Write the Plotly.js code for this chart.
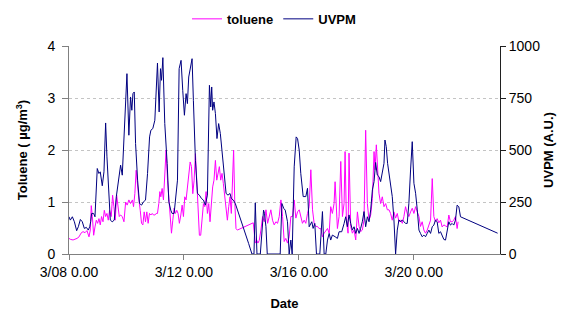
<!DOCTYPE html>
<html>
<head>
<meta charset="utf-8">
<script src="https://cdn.plot.ly/plotly-3.0.1.min.js"></script>
<style>html,body{margin:0;padding:0;background:#fff;}#chart{width:565px;height:315px;}</style>
</head>
<body>
<div id="chart"></div>
<script>
// Hours since 3/08 0:00 and values
const startDate = "2005-03-08T00:00:00Z";
const endDate = "2005-03-23T00:00:00Z";
const xTickLabels = ["3/08 0.00", "3/12 0.00", "3/16 0.00", "3/20 0.00"];

const tolueneHours = [0,1.4,3.4,5.0,6.7,8.4,10.0,11.7,13.4,15.0,16.7,17.8,18.6,19.5,20.6,21.7,22.8,23.9,25.0,26.1,27.2,28.4,29.5,30.6,31.7,32.8,33.9,35.3,36.4,37.5,38.6,39.8,40.9,42.0,43.1,44.5,45.9,47.3,48.6,50.0,51.4,53.0,53.9,55.0,56.1,57.3,58.4,59.5,60.6,61.7,62.8,63.9,65.0,66.1,67.2,68.4,69.5,70.6,71.7,72.8,73.9,75.0,75.9,76.7,77.8,78.9,80.0,81.1,82.3,83.4,84.5,85.6,86.7,87.8,88.9,90.0,91.1,92.2,93.4,94.5,95.6,96.7,97.8,98.9,100.0,101.2,102.3,103.4,104.5,105.6,106.7,107.8,108.9,110.0,111.1,112.3,113.4,114.5,115.6,116.7,117.8,118.9,120.0,121.1,122.3,123.4,124.5,125.6,126.7,127.8,128.9,130.0,131.2,132.3,133.4,134.5,135.6,136.7,137.5,138.4,139.5,140.6,153.9,155.6,156.7,157.8,158.9,160.3,161.7,163.1,164.5,165.9,167.3,168.6,170.0,171.4,172.8,174.2,175.6,177.0,178.4,179.75,181.1,182.5,183.9,185.3,186.7,188.1,189.5,190.9,192.3,193.6,195.0,196.4,197.8,199.2,200.6,202.0,203.4,204.75,206.1,207.5,208.9,210.3,211.7,213.1,214.5,215.9,217.3,218.6,220.0,221.4,222.25,223.4,224.2,225.6,227.0,228.4,229.75,230.6,231.7,233.1,233.9,235.3,236.7,238.1,239.5,240.9,242.3,243.6,245.0,246.4,247.8,249.2,250.6,252.0,253.4,254.8,255.6,256.7,257.8,258.9,260.3,261.7,263.1,264.5,265.9,267.3,268.6,270.0,271.4,272.8,274.2,275.6,277.0,278.4,279.75,281.1,282.5,283.9,285.3,286.7,288.1,289.5,290.9,292.3,293.6,295.0,296.4,297.8,299.2,300.6,302.0,303.4,304.75,306.1,307.5,308.9,310.3,311.7,313.1,314.5,315.9,317.25,318.6,320.0,321.4,322.8,324.2,325.0];
const tolueneValues = [0.30,0.28,0.27,0.28,0.30,0.33,0.40,0.43,0.41,0.45,0.33,0.46,0.93,0.72,0.36,0.52,0.65,0.59,0.68,0.56,0.72,0.62,0.84,0.72,0.78,0.65,0.84,0.72,1.13,0.91,0.65,1.13,0.91,0.72,0.75,0.72,0.62,1.00,0.94,1.04,0.97,1.04,0.91,1.16,1.61,1.23,1.04,0.84,0.59,0.56,0.81,0.62,0.81,0.59,0.78,0.75,0.78,0.75,0.75,0.78,0.78,0.97,1.20,1.10,1.26,1.04,1.55,2.00,1.42,1.10,0.65,0.40,0.65,0.88,0.78,0.84,0.78,0.59,0.75,0.94,0.72,1.10,1.04,1.29,1.48,1.77,1.68,1.16,1.42,1.93,1.42,0.78,0.36,0.36,0.59,0.97,0.91,1.20,0.78,0.97,0.62,0.97,1.29,1.42,1.80,1.42,1.55,1.68,1.42,1.55,1.36,1.10,0.81,0.65,0.91,1.10,0.78,1.36,2.00,1.04,0.49,0.46,0.60,0.21,0.27,0.21,0.26,0.46,0.72,0.62,0.85,0.59,0.72,0.85,0.65,0.56,0.62,0.59,0.72,1.04,0.72,0.24,0.30,0.21,0.33,0.72,0.72,1.04,0.69,0.81,0.85,0.72,0.59,0.65,0.59,0.78,0.91,1.62,0.85,0.59,0.53,0.53,0.49,0.49,0.33,0.40,0.46,0.49,0.40,0.91,0.78,0.97,1.39,0.85,0.49,0.72,1.78,0.72,0.97,1.97,0.65,0.40,1.94,0.53,0.40,0.46,0.27,0.81,0.53,0.43,0.46,0.65,2.38,0.97,0.65,0.75,1.07,1.97,1.62,2.10,1.49,1.17,0.97,1.10,0.91,0.97,0.85,0.85,0.78,0.65,0.81,0.69,0.78,0.62,0.65,0.59,0.72,0.91,0.78,0.72,0.81,0.88,0.78,0.91,0.81,0.72,0.53,0.62,0.46,0.40,0.46,0.56,0.65,1.45,0.72,0.62,0.68,0.60,0.65,0.52,0.56,0.54,0.52,0.75,0.62,0.62,0.65,0.72,0.49,0.62];

const uvpmHours = [0,1.1,2.8,4.5,6.4,7.8,9.5,11.1,12.8,14.5,16.1,17.3,18.1,18.9,20.6,21.7,23.6,25.0,26.1,27.8,29.2,30.6,31.7,33.4,34.5,36.1,37.8,39.5,41.1,43.1,44.5,45.9,48.4,50.0,51.4,52.5,53.4,54.5,55.6,57.3,58.9,60.6,62.2,63.9,65.6,67.3,68.4,70.0,71.7,73.9,75.3,76.4,77.3,78.4,80.0,82.0,83.4,85.0,86.1,87.8,88.9,90.6,92.0,93.6,95.0,96.4,97.8,98.9,100.0,101.4,102.8,103.9,105.6,107.3,108.9,110.6,112.3,113.9,115.6,117.3,118.4,119.2,120.0,121.1,122.3,123.6,125.0,126.4,127.8,129.5,131.2,132.8,134.5,135.6,137.3,138.9,141.7,144.5,147.3,150.0,152.8,154.5,155.6,157.0,159.8,161.1,162.5,163.3,164.5,165.6,176.4,177.8,179.4,180.6,182.5,183.9,185.3,186.4,188.1,189.75,190.9,192.3,193.6,195.6,197.8,199.2,200.6,202.8,203.9,205.3,206.7,209.5,210.6,211.7,213.1,214.5,215.9,217.3,218.6,220.0,222.3,224.2,225.6,227.8,229.8,231.1,232.5,233.9,235.3,236.7,238.1,239.5,240.9,242.3,243.6,245.0,246.4,247.8,249.2,250.6,252.0,253.4,254.8,256.1,257.5,258.9,260.3,261.7,263.1,263.9,265.0,266.1,267.3,268.6,270.0,271.4,272.8,274.2,275.6,277.0,278.4,279.8,281.1,282.5,283.9,285.3,286.7,288.1,289.5,290.9,292.3,293.6,295.0,296.4,297.8,299.2,300.6,302.0,303.4,304.75,306.1,307.5,308.9,310.3,311.7,313.1,314.5,315.9,317.25,318.6,320.0,321.4,322.8,324.2,325.6,327.0,358.0];
const uvpmValues = [179,163,179,155,112,131,166,155,123,128,115,131,155,195,195,179,411,387,395,328,395,630,467,259,163,155,163,275,339,427,379,563,867,571,755,691,771,779,531,355,243,235,251,259,387,563,595,603,643,918,683,891,835,944,627,435,251,211,195,195,251,355,891,931,787,667,771,723,851,899,939,739,451,291,283,267,259,235,283,811,707,803,691,731,675,555,627,579,483,387,291,283,291,267,259,243,195,155,107,51,0,0,246,0,0,131,211,195,131,0,0,243,219,211,155,0,67,0,419,563,555,499,388,276,276,316,131,155,123,147,0,0,115,204,0,0,67,99,67,91,83,75,107,107,147,179,131,188,147,115,131,99,123,99,123,155,204,131,179,155,212,308,348,440,380,372,348,388,436,548,516,436,388,340,276,164,0,115,164,155,164,155,147,147,244,404,540,340,292,212,115,99,83,91,83,99,115,99,131,139,163,155,99,107,83,70,67,115,155,139,147,139,163,235,227,179,100];

const t0 = Date.parse(startDate);
const toDate = h => new Date(t0 + h * 3600000).toISOString().replace('Z', '');

const FONT = '"Liberation Sans", Arial, sans-serif';

const traces = [
  {x: tolueneHours.map(toDate), y: tolueneValues, name: 'toluene', type: 'scatter', mode: 'lines',
   line: {color: '#FF00FF', width: 1}, yaxis: 'y'},
  {x: uvpmHours.map(toDate), y: uvpmValues, name: 'UVPM', type: 'scatter', mode: 'lines',
   line: {color: '#000080', width: 1}, yaxis: 'y2'}
];

const tickVals = [0, 96, 192, 288].map(toDate);

const layout = {
  width: 565, height: 315,
  margin: {l: 69, r: 65, t: 46, b: 61, autoexpand: false},
  paper_bgcolor: '#ffffff', plot_bgcolor: '#ffffff',
  font: {family: FONT, size: 13, color: '#000'},
  showlegend: true,
  legend: {orientation: 'h', xref: 'container', yref: 'container', x: 0.485, xanchor: 'center', y: 0.94, yanchor: 'middle',
           font: {family: FONT, size: 13, color: '#000', weight: 'bold'}, bgcolor: 'rgba(0,0,0,0)'},
  xaxis: {
    type: 'date', range: [toDate(0), endDate.replace('Z','')],
    tickvals: tickVals, ticktext: xTickLabels,
    showgrid: false, zeroline: false, showline: true, linecolor: '#808080', linewidth: 1,
    ticks: 'outside', ticklen: 5, tickcolor: '#808080',
    tickfont: {family: FONT, size: 14, color: '#000'},
    title: {text: '<b>Date</b>', font: {family: FONT, size: 13, color: '#000'}, standoff: 20}
  },
  yaxis: {
    range: [0, 4], dtick: 1, tick0: 0,
    showgrid: true, gridcolor: '#c4c4c4', griddash: 'dot', gridwidth: 1,
    zeroline: false, showline: true, linecolor: '#808080', linewidth: 1,
    ticks: 'outside', ticklen: 6, tickcolor: '#808080', ticklabelstandoff: 4,
    tickfont: {family: FONT, size: 14, color: '#000'},
    title: {text: '<b>Toluene ( µg/m<sup>3</sup>)</b>', font: {family: FONT, size: 13, color: '#000'}, standoff: 16}
  },
  yaxis2: {
    range: [0, 1000], dtick: 250, tick0: 0, overlaying: 'y', side: 'right',
    showgrid: false, zeroline: false, showline: true, linecolor: '#202020', linewidth: 1,
    ticks: 'outside', ticklen: 5, tickcolor: '#202020',
    tickfont: {family: FONT, size: 14, color: '#000'},
    title: {text: '<b>UVPM (A.U.)</b>', font: {family: FONT, size: 13, color: '#000'}, standoff: 4}
  }
};

Plotly.newPlot('chart', traces, layout, {staticPlot: true, displayModeBar: false});
</script>
</body>
</html>
